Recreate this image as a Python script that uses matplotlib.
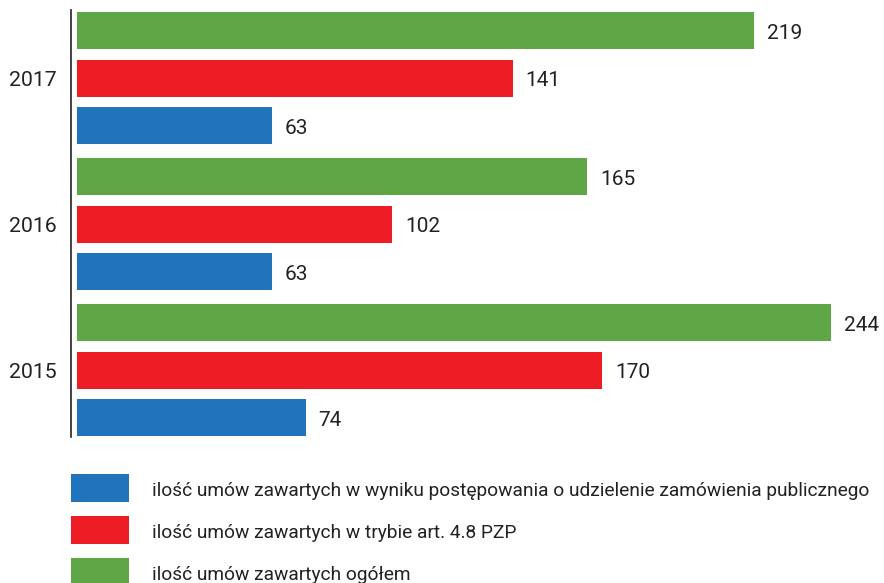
import matplotlib
matplotlib.use("Agg")
import matplotlib.pyplot as plt
from matplotlib.patches import Rectangle
from matplotlib.lines import Line2D

years = ["2017", "2016", "2015"]
ogolem = [219, 165, 244]
art48 = [141, 102, 170]
postepowanie = [63, 63, 74]
series_labels = [
    "ilość umów zawartych w wyniku postępowania o udzielenie zamówienia publicznego",
    "ilość umów zawartych w trybie art. 4.8 PZP",
    "ilość umów zawartych ogółem",
]
colors = {"green": "#5FA646", "red": "#EE1C25", "blue": "#1F74BB"}

W, H = 884, 583
fig = plt.figure(figsize=(W / 100, H / 100), dpi=100)
plt.rcParams['font.family'] = ['Roboto', 'DejaVu Sans']

x0 = 77
ppu = (831 - 77) / 244.0
ax = fig.add_axes([x0 / W, 0, 1 - x0 / W, 1])
ax.set_xlim(0, (W - x0) / ppu)
ax.set_ylim(H, 0)
ax.axis("off")

bh = 37
for g, year in enumerate(years):
    base = 30.5 + g * 146
    for k, (vals, col) in enumerate([(ogolem, "green"), (art48, "red"), (postepowanie, "blue")]):
        yc = base + k * 47.5
        ax.barh(yc, vals[g], height=bh, color=colors[col], edgecolor="none")
        ax.text(vals[g] + 13 / ppu, yc + 1, str(vals[g]), va="center_baseline", ha="left",
                fontsize=15, color="#222222")
    ax.text(-20 / ppu, base + 47.5 + 0.5, year, va="center_baseline", ha="right", fontsize=15.3, color="#222222")

fig.add_artist(Line2D([71 / W, 71 / W], [1 - 10 / H, 1 - 437 / H], color="#222222", lw=1.2))

for i, (lab, col) in enumerate(zip(series_labels, ["blue", "red", "green"])):
    yt = 474 + i * 42
    fig.add_artist(Rectangle((71 / W, 1 - (yt + 28) / H), 58 / W, 28 / H,
                             transform=fig.transFigure, color=colors[col], lw=0))
    fig.text(152 / W, 1 - (yt + 14.5) / H, lab, va="center_baseline", ha="left", fontsize=13.8, color="#222222")

fig.savefig("out.png", dpi=100)
